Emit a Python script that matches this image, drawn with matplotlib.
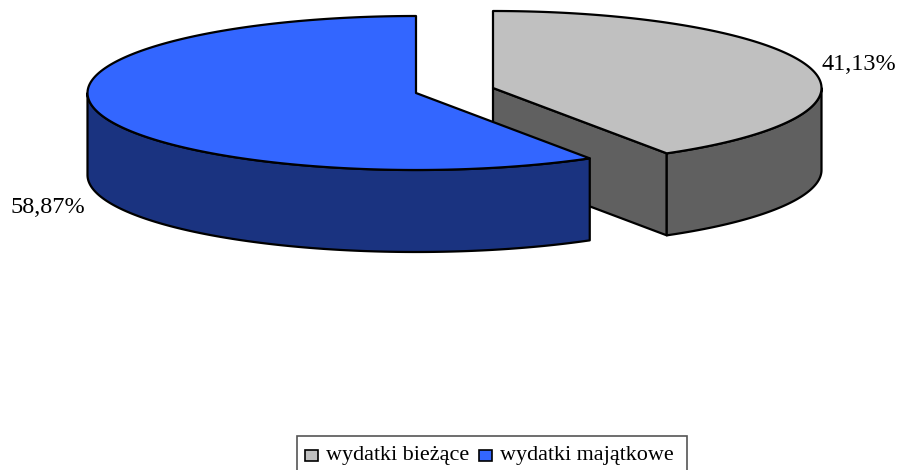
import numpy as np
import matplotlib
matplotlib.use("Agg")
import matplotlib.pyplot as plt
from matplotlib.patches import Polygon, Rectangle

plt.rcParams["font.family"] = ["Liberation Serif", "DejaVu Serif"]

categories = ["wydatki bieżące", "wydatki majątkowe"]
values = [41.13, 58.87]
labels = ["41,13%", "58,87%"]

top_colors = ["#C0C0C0", "#3366FF"]
side_colors = ["#606060", "#1A3380"]

# geometrie du camembert, en pixels
centres = [(493, 88), (416, 93)]
rx = 328.5
ry = 77
depth = 82

def arc(cx, cy, a1, a2):
    # angle compte depuis le haut, sens horaire
    t = np.radians(np.linspace(a1, a2, 200))
    return np.column_stack([cx + rx * np.sin(t), cy - ry * np.cos(t)])

fig = plt.figure(figsize=(8.98, 4.70), dpi=100)
ax = fig.add_axes([0, 0, 1, 1])
ax.set_xlim(0, 898)
ax.set_ylim(470, 0)
ax.axis("off")

angles = np.cumsum([0] + values) * 3.6
edge = dict(edgecolor="black", linewidth=1.6, joinstyle="round")

# part grise
cx, cy = centres[0]
a1, a2 = angles[0], angles[1]
end = arc(cx, cy, a2, a2)[0]
ax.add_patch(Polygon([(cx, cy), end, end + [0, depth], (cx, cy + depth)], closed=True, facecolor=side_colors[0], **edge))
rim = arc(cx, cy, 90, a2)
ax.add_patch(Polygon(np.vstack([rim, rim[::-1] + [0, depth]]), closed=True, facecolor=side_colors[0], **edge))
ax.add_patch(Polygon(np.vstack([[(cx, cy)], arc(cx, cy, a1, a2)]), closed=True, facecolor=top_colors[0], **edge))

# part bleue
cx, cy = centres[1]
a1, a2 = angles[1], angles[2]
rim = arc(cx, cy, a1, 270)
ax.add_patch(Polygon(np.vstack([rim, rim[::-1] + [0, depth]]), closed=True, facecolor=side_colors[1], **edge))
ax.add_patch(Polygon(np.vstack([[(cx, cy)], arc(cx, cy, a1, a2)]), closed=True, facecolor=top_colors[1], **edge))

ax.text(821, 69.5, labels[0], fontsize=17.5, color="black", ha="left", va="baseline")
ax.text(10, 213, labels[1], fontsize=17.5, color="black", ha="left", va="baseline")

# legende, le bas du cadre sort de l'image
ax.add_patch(Rectangle((297, 436), 390, 50, facecolor="white", edgecolor="#555555", linewidth=1.2))
swatch_x = [305, 479]
text_x = [326.5, 500]
for i in range(2):
    ax.add_patch(Rectangle((swatch_x[i], 450), 13, 11, facecolor=top_colors[i], edgecolor="black", linewidth=1.2))
    ax.text(text_x[i], 460, categories[i], fontsize=15.9, color="black", ha="left", va="baseline")

plt.savefig("out.png", dpi=100)
plt.close()
